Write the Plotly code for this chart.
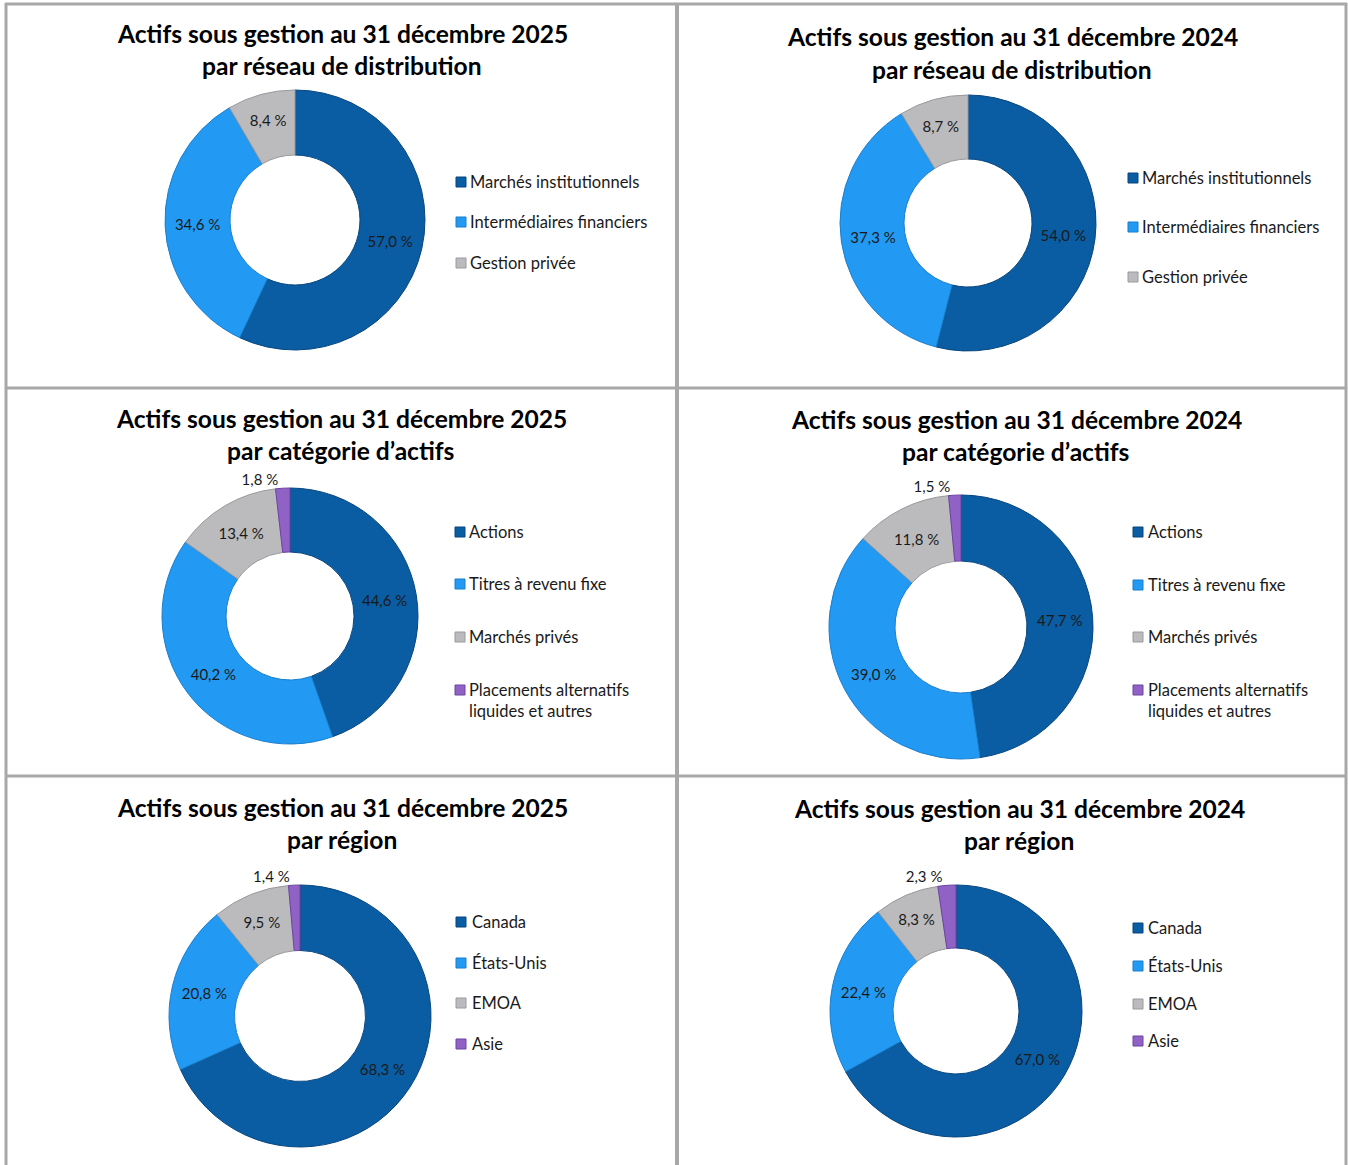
import plotly.graph_objects as go

W, H = 1348, 1165

# ---------------- data ----------------
titles_2025 = "Actifs sous gestion au 31 décembre 2025"
titles_2024 = "Actifs sous gestion au 31 décembre 2024"

dist_labels = ["Marchés institutionnels", "Intermédiaires financiers", "Gestion privée"]
dist_2025 = [57.0, 34.6, 8.4]
dist_2024 = [54.0, 37.3, 8.7]

cat_labels = ["Actions", "Titres à revenu fixe", "Marchés privés",
              "Placements alternatifs<br>liquides et autres"]
cat_2025 = [44.6, 40.2, 13.4, 1.8]
cat_2024 = [47.7, 39.0, 11.8, 1.5]

reg_labels = ["Canada", "États-Unis", "EMOA", "Asie"]
reg_2025 = [68.3, 20.8, 9.5, 1.4]
reg_2024 = [67.0, 22.4, 8.3, 2.3]

subtitles = ["par réseau de distribution", "par catégorie d’actifs", "par région"]

colors = ["#0A5CA3", "#2299F2", "#BBBBBE", "#9162C6"]
edge = ["#07467E", "#1B7FCC", "#9A9A9E", "#6C44A0"]

FONT = "Lato"

def fmt(v):
    return f"{v:.1f} %".replace(".", ",")

def px(x):
    return x / W

def py(y):
    return 1 - y / H

# panel layout: (values, labels, title, subtitle, center, radius, title_x, title_y, legend marker x, legend text x, legend ys)
panels = [
    (dist_2025, dist_labels, titles_2025, subtitles[0], (295, 220), 130, 342, 33, 461, 468, [182, 222, 263]),
    (dist_2024, dist_labels, titles_2024, subtitles[0], (968, 223), 128, 1012, 37, 1133, 1140, [178, 227, 277]),
    (cat_2025, cat_labels, titles_2025, subtitles[1], (290, 616), 128, 341, 418, 460, 467, [532, 584, 637, 690]),
    (cat_2024, cat_labels, titles_2024, subtitles[1], (961, 627), 132, 1016, 420, 1138, 1146, [532, 585, 637, 690]),
    (reg_2025, reg_labels, titles_2025, subtitles[2], (300, 1016), 131, 342, 807, 461, 470, [922, 963, 1003, 1044]),
    (reg_2024, reg_labels, titles_2024, subtitles[2], (956, 1011), 126, 1019, 808, 1138, 1146, [928, 966, 1004, 1041]),
]

fig = go.Figure()
annotations = []
shapes = []

for vals, labs, t1, t2, (cx, cy), r, tx, ty, mx, lx, lys in panels:
    n = len(vals)
    tpos = ["inside" if v > 5 else "outside" for v in vals]
    fig.add_trace(go.Pie(
        values=vals,
        labels=[l.replace("<br>", " ") for l in labs],
        text=[fmt(v) for v in vals],
        textinfo="text",
        texttemplate="%{text}",
        textposition=tpos,
        insidetextorientation="horizontal",
        textfont=dict(family=FONT, size=15, color="#1a1a1a"),
        sort=False,
        direction="clockwise",
        rotation=0,
        hole=0.5,
        marker=dict(colors=colors[:n], line=dict(color=edge[:n], width=1)),
        domain=dict(x=[px(cx - r), px(cx + r)], y=[py(cy + r), py(cy - r)]),
        showlegend=False,
    ))
    annotations.append(dict(x=px(tx), y=py(ty), xref="paper", yref="paper", text=f"<b>{t1}</b>",
                            showarrow=False, xanchor="center", yanchor="middle",
                            font=dict(family=FONT, size=24.6, color="#000")))
    annotations.append(dict(x=px(tx), y=py(ty + 32), xref="paper", yref="paper", text=f"<b>{t2}</b>",
                            showarrow=False, xanchor="center", yanchor="middle",
                            font=dict(family=FONT, size=24.6, color="#000")))
    for i, (lab, ly) in enumerate(zip(labs, lys)):
        shapes.append(dict(type="rect", xref="paper", yref="paper",
                           x0=px(mx - 5), x1=px(mx + 5), y0=py(ly + 5), y1=py(ly - 5),
                           fillcolor=colors[i], line=dict(color=edge[i], width=1)))
        multi = "<br>" in lab
        annotations.append(dict(x=px(lx), y=py(ly), xref="paper", yref="paper", text=lab,
                                showarrow=False, xanchor="left", yanchor="top" if multi else "middle",
                                yshift=12 if multi else 0,
                                align="left",
                                font=dict(family=FONT, size=16.5, color="#1a1a1a")))

# panel borders
bc = "#A8A8A8"
for x in [6, 677, 1346]:
    shapes.append(dict(type="line", xref="paper", yref="paper", x0=px(x), x1=px(x), y0=0, y1=py(3),
                       line=dict(color=bc, width=3 if x != 677 else 4)))
for y in [4, 388, 776]:
    shapes.append(dict(type="line", xref="paper", yref="paper", x0=px(5), x1=px(1347), y0=py(y), y1=py(y),
                       line=dict(color=bc, width=3)))

fig.update_layout(
    width=W, height=H,
    margin=dict(l=0, r=0, t=0, b=0),
    paper_bgcolor="white", plot_bgcolor="white",
    annotations=annotations, shapes=shapes,
    font=dict(family=FONT),
)

fig.write_html("out.html")
